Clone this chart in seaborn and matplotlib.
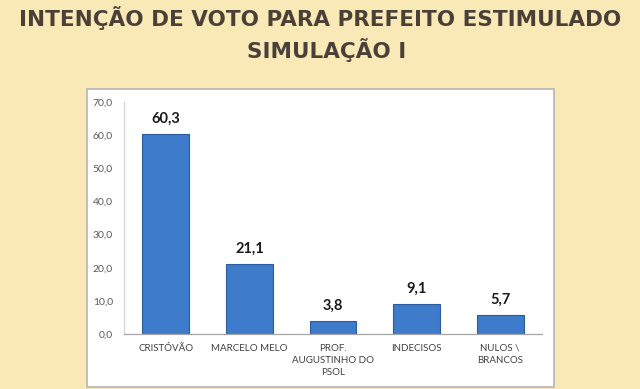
import matplotlib
matplotlib.use("Agg")
import matplotlib.pyplot as plt
import seaborn as sns
import pandas as pd
from matplotlib.patches import Rectangle
from matplotlib.ticker import FuncFormatter

categories = ["CRISTÓVÃO", "MARCELO MELO", "PROF.\nAUGUSTINHO DO\nPSOL", "INDECISOS", "NULOS \\\nBRANCOS"]
values = [60.3, 21.1, 3.8, 9.1, 5.7]
title_line1 = "INTENÇÃO DE VOTO PARA PREFEITO ESTIMULADO"
title_line2 = "SIMULAÇÃO I"

sns.set_theme(style="white")
plt.rcParams["font.family"] = ["Lato", "DejaVu Sans"]

df = pd.DataFrame({"cat": categories, "val": values})

fig = plt.figure(figsize=(6.4, 3.89), dpi=100)
fig.patch.set_facecolor("#F8E9B6")

# white chart box
box = Rectangle((87/640, 1-387/389), (554-87)/640, (387-89)/389, transform=fig.transFigure,
                facecolor="white", edgecolor="#b5b5b5", linewidth=1.2, zorder=-10)
fig.patches.append(box)

ax = fig.add_axes([124/640, 1-334/389, (542-124)/640, (334-102)/389])
ax.set_facecolor("none")
ax.patch.set_alpha(0)
sns.barplot(data=df, x="cat", y="val", color="#3E7CCB", width=0.56, ax=ax,
            edgecolor="#2B5C9E", linewidth=0.8, saturation=1)

ax.set_ylim(0, 70)
ax.set_yticks(range(0, 71, 10))
ax.yaxis.set_major_formatter(FuncFormatter(lambda v, p: f"{v:.1f}".replace(".", ",")))
ax.set_xlabel("")
ax.set_ylabel("")
ax.tick_params(axis="y", length=0, pad=8, labelsize=7.5, labelcolor="#595959")
ax.tick_params(axis="x", length=0, pad=7, labelsize=7, labelcolor="#404040")
for lbl in ax.get_xticklabels():
    lbl.set_linespacing(1.45)
    lbl.set_verticalalignment("top")

for s in ["top", "right"]:
    ax.spines[s].set_visible(False)
ax.spines["left"].set_color("#d4d4d4")
ax.spines["bottom"].set_color("#a6a6a6")
ax.spines["left"].set_linewidth(0.9)
ax.spines["bottom"].set_linewidth(0.9)

ax.bar_label(ax.containers[0], labels=[f"{v:.1f}".replace(".", ",") for v in values],
             padding=6, fontsize=10.5, fontweight="bold", color="#1a1a1a")

fig.text(0.5, 1-18/389, title_line1, ha="center", va="center", fontsize=15.5,
         fontweight="bold", color="#4A4038", family="DejaVu Sans")
fig.text(0.511, 1-50/389, title_line2, ha="center", va="center", fontsize=15.5,
         fontweight="bold", color="#4A4038", family="DejaVu Sans")

fig.savefig("out.png", dpi=100, facecolor=fig.get_facecolor())
